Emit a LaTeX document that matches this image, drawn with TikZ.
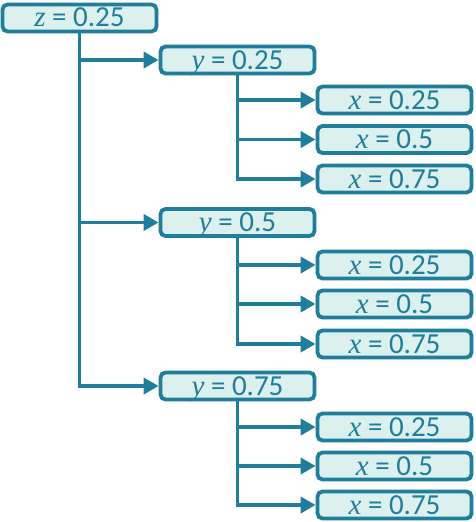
\documentclass[tikz,border=0pt]{standalone}
\usepackage{fontspec}
\setmainfont{Carlito}
\newfontfamily\varfont{Liberation Serif}
\usetikzlibrary{arrows.meta}
\definecolor{teal1}{HTML}{1E7E9C}
\definecolor{fill1}{HTML}{DCF0EE}
\newcommand{\vv}[1]{{\varfont\itshape #1}}
\tikzset{
  box/.style={draw=teal1, fill=fill1, line width=3.8pt, rounded corners=5pt,
    minimum width=154pt, minimum height=27pt, inner sep=0pt,
    text height=18pt, text depth=0pt,
    font=\fontsize{29}{30}\selectfont, text=teal1},
  arr/.style={draw=teal1, line width=3.8pt, -{Triangle[length=15pt,width=16pt]}},
}
\begin{document}
\begin{tikzpicture}[x=1pt,y=-1pt]
\useasboundingbox (0,0) rectangle (476,522);
\node[box] (z) at (79.5,18) {\vv{z} = 0.25};
\node[box] (y1) at (237.5,60) {\vv{y} = 0.25};
\node[box] (y2) at (237.5,222.5) {\vv{y} = 0.5};
\node[box] (y3) at (237.5,386) {\vv{y} = 0.75};
\node[box] (x11) at (394.5,100) {\vv{x} = 0.25};
\node[box] (x12) at (394.5,139.5) {\vv{x} = 0.5};
\node[box] (x13) at (394.5,179) {\vv{x} = 0.75};
\node[box] (x21) at (394.5,265) {\vv{x} = 0.25};
\node[box] (x22) at (394.5,304) {\vv{x} = 0.5};
\node[box] (x23) at (394.5,344) {\vv{x} = 0.75};
\node[box] (x31) at (394.5,427) {\vv{x} = 0.25};
\node[box] (x32) at (394.5,466) {\vv{x} = 0.5};
\node[box] (x33) at (394.5,505) {\vv{x} = 0.75};
% z trunk
\draw[arr] (z.south) |- (y3.west);
\draw[arr] (z.south |- y1.west) -- (y1.west);
\draw[arr] (z.south |- y2.west) -- (y2.west);
% y trunks
\foreach \y/\a/\b/\c in {y1/x11/x12/x13, y2/x21/x22/x23, y3/x31/x32/x33}{
  \draw[arr] (\y.south) |- (\c.west);
  \draw[arr] (\y.south |- \a.west) -- (\a.west);
  \draw[arr] (\y.south |- \b.west) -- (\b.west);
}
\end{tikzpicture}
\end{document}
